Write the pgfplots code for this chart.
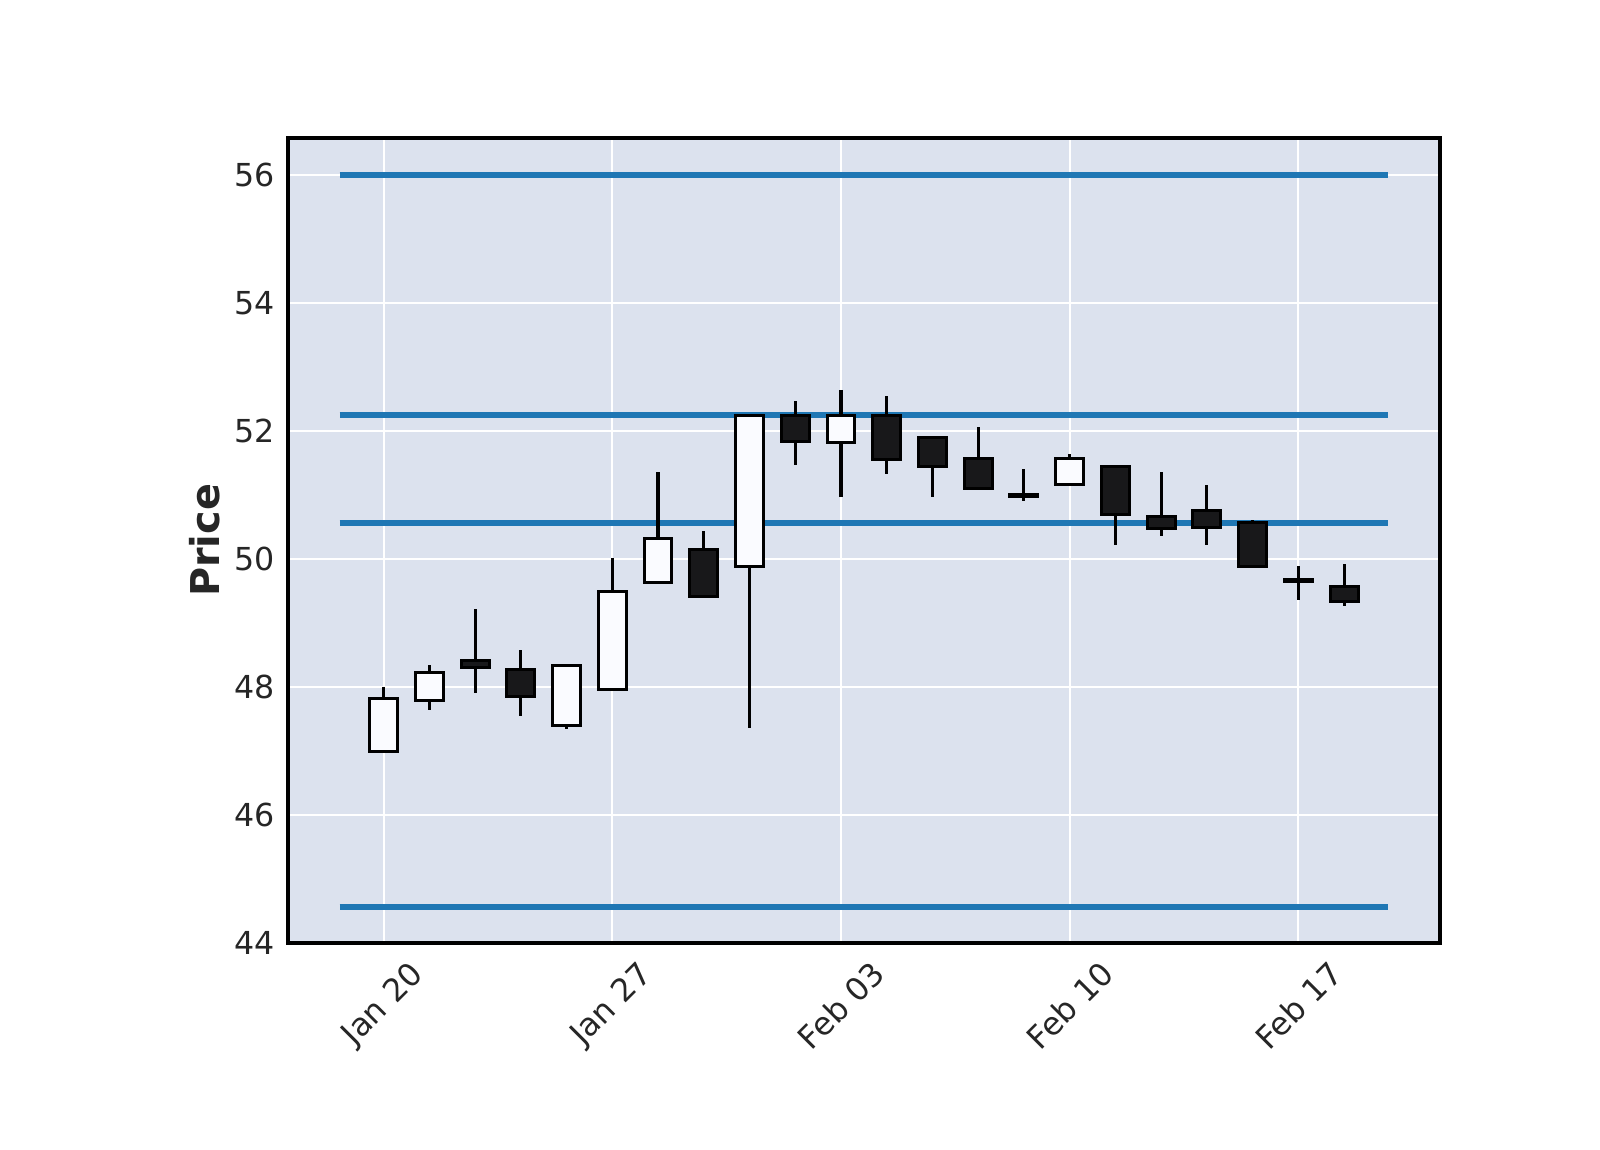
\documentclass[border=0pt]{standalone}
\usepackage{pgfplots}
\pgfplotsset{compat=1.18}
\usepackage{pgfplotstable}
\usepackage{fontspec}
\setmainfont{DejaVu Sans}
\definecolor{bg}{HTML}{DCE2EE}
\definecolor{upc}{HTML}{FAFBFF}
\definecolor{dnc}{HTML}{18181A}
\definecolor{hl}{HTML}{1F77B4}
\definecolor{txt}{HTML}{262626}

\pgfplotstableread{
x o h l c
0 46.99 47.99 46.98 47.82
1 47.79 48.34 47.64 48.22
2 48.41 49.22 47.90 48.30
3 48.27 48.57 47.55 47.85
4 47.39 48.35 47.34 48.34
5 47.96 50.01 47.95 49.49
6 49.63 51.35 49.62 50.31
7 50.14 50.44 49.41 49.41
8 49.88 52.24 47.35 52.24
9 52.24 52.46 51.47 51.84
10 51.82 52.64 50.97 52.24
11 52.24 52.54 51.33 51.56
12 51.90 51.90 50.97 51.44
13 51.57 52.06 51.10 51.10
14 51.00 51.41 50.90 50.98
15 51.16 51.64 51.16 51.57
16 51.45 51.47 50.22 50.70
17 50.66 51.35 50.35 50.48
18 50.75 51.15 50.21 50.49
19 50.56 50.61 49.88 49.88
20 49.67 49.88 49.36 49.65
21 49.57 49.92 49.27 49.33
}\ohlc

\begin{document}
\begin{tikzpicture}[x=1pt,y=1pt]
\useasboundingbox (0,0) rectangle (576,414);
\begin{axis}[
  at={(103.68pt,74.63pt)}, anchor=south west,
  scale only axis, width=414.6pt, height=289.7pt,
  xmin=-2.09, xmax=23.09, ymin=44, ymax=56.578,
  axis background/.style={fill=bg},
  axis line style={black, line width=1.44pt},
  grid=major, major grid style={white, line width=0.72pt},
  major tick length=0pt,
  xtick={0,5,10,15,20},
  xticklabels={Jan 20,Jan 27,Feb 03,Feb 10,Feb 17},
  ytick={44,46,48,50,52,54,56},
  tick label style={font=\fontsize{11.4}{13}\selectfont, text=txt},
  xticklabel style={yshift=-22.6pt, anchor=center, rotate=45},
  yticklabel style={anchor=east, inner sep=0pt, xshift=-4.5pt},
  /pgf/number format/assume math mode=true,
  ylabel={Price},
  every axis y label/.style={at={(axis description cs:0,0.5)}, xshift=-29.9pt, rotate=90, anchor=center, font=\fontsize{14.3}{16}\selectfont\bfseries, text=txt},
  ybar stacked, bar width=0.61,
]
% candle bodies (stacked: invisible base, up bodies, down bodies)
\addplot[draw=none, fill=none] table[x=x, y expr={min(\thisrow{o},\thisrow{c})}] {\ohlc};
\addplot[draw=black, line width=1.08pt, fill=upc] table[x=x, y expr={ifthenelse(\thisrow{c}>\thisrow{o},\thisrow{c}-\thisrow{o},0)}] {\ohlc};
\addplot[draw=black, line width=1.08pt, fill=dnc] table[x=x, y expr={ifthenelse(\thisrow{c}>\thisrow{o},0,\thisrow{o}-\thisrow{c})}] {\ohlc};
% lower wicks
\addplot[sharp plot, stack plots=false, draw=none, mark=none, no markers,
  error bars/.cd, y dir=minus, y explicit, error mark=none,
  error bar style={draw=black, line width=1.1pt}]
  table[x=x, y expr={min(\thisrow{o},\thisrow{c})}, y error minus expr={min(\thisrow{o},\thisrow{c})-\thisrow{l}}] {\ohlc};
% upper wicks
\addplot[sharp plot, stack plots=false, draw=none, mark=none, no markers,
  error bars/.cd, y dir=plus, y explicit, error mark=none,
  error bar style={draw=black, line width=1.1pt}]
  table[x=x, y expr={max(\thisrow{o},\thisrow{c})}, y error plus expr={\thisrow{h}-max(\thisrow{o},\thisrow{c})}] {\ohlc};
% horizontal lines
\addplot[sharp plot, stack plots=false, mark=none, hl, line width=2.16pt] coordinates {(-0.96,56) (21.96,56)};
\addplot[sharp plot, stack plots=false, mark=none, hl, line width=2.16pt] coordinates {(-0.96,52.24) (21.96,52.24)};
\addplot[sharp plot, stack plots=false, mark=none, hl, line width=2.16pt] coordinates {(-0.96,50.555) (21.96,50.555)};
\addplot[sharp plot, stack plots=false, mark=none, hl, line width=2.16pt] coordinates {(-0.96,44.565) (21.96,44.565)};
\end{axis}
\end{tikzpicture}
\end{document}
